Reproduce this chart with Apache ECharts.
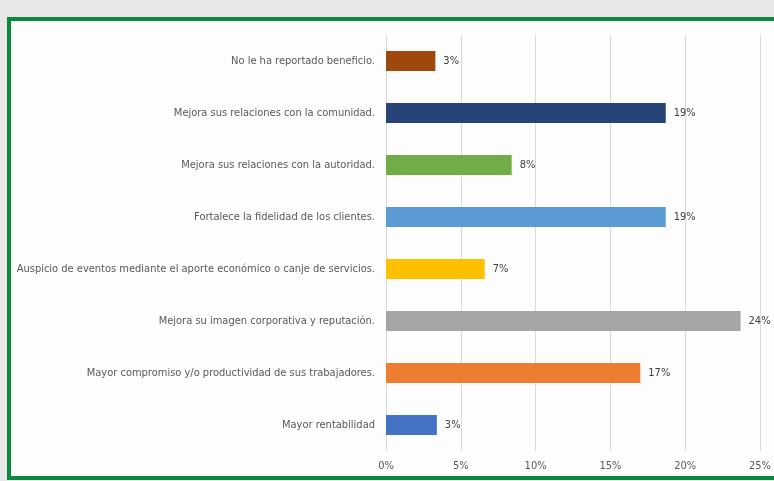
<!DOCTYPE html>
<html>
<head>
<meta charset="utf-8">
<script src="https://cdn.jsdelivr.net/npm/echarts@6/dist/echarts.min.js"></script>
<style>
  html, body { margin: 0; padding: 0; width: 774px; height: 481px; overflow: hidden; background: #e6e7e6; }
  .frame {
    position: absolute; left: 7px; top: 17px; width: 790px; height: 455px;
    background: #fdfdfd; border: 4px solid #0b8a3e;
  }
  #chart { position: absolute; left: 0; top: 0; width: 774px; height: 481px; }
</style>
</head>
<body>
<div class="frame"></div>
<div id="chart"></div>
<script>
const categories = [
  'No le ha reportado beneficio.',
  'Mejora sus relaciones con la comunidad.',
  'Mejora sus relaciones con la autoridad.',
  'Fortalece la fidelidad de los clientes.',
  'Auspicio de eventos mediante el aporte económico o canje de servicios.',
  'Mejora su imagen corporativa y reputación.',
  'Mayor compromiso y/o productividad de sus trabajadores.',
  'Mayor rentabilidad'
]
const values = [3.3, 18.7, 8.4, 18.7, 6.6, 23.7, 17.0, 3.4]
const barColors = ['#9e480e', '#264478', '#70ad47', '#5b9bd5', '#ffc000', '#a5a5a5', '#ed7d31', '#4472c4']
const xTicks = [0, 5, 10, 15, 20, 25]

const chart = echarts.init(document.getElementById('chart'))

chart.setOption({
  backgroundColor: 'transparent',
  textStyle: { fontFamily: 'Liberation Sans Narrow, DejaVu Sans Condensed, sans-serif' },
  grid: {
    left: 386,
    right: 14,
    top: 35,
    bottom: 30,
    containLabel: false,
    outerBoundsMode: 'none'
  },
  xAxis: {
    type: 'value',
    min: xTicks[0],
    max: xTicks[xTicks.length - 1],
    interval: 5,
    axisLine: { show: false },
    axisTick: { show: false },
    splitLine: { lineStyle: { color: '#d9d9d9' } },
    axisLabel: { formatter: '{value}%', color: '#595959', fontSize: 11, margin: 10 }
  },
  yAxis: {
    type: 'category',
    inverse: true,
    data: categories,
    axisLine: { lineStyle: { color: '#d9d9d9' } },
    axisTick: { show: false },
    axisLabel: { color: '#595959', fontSize: 11, margin: 11 }
  },
  series: [
    {
      type: 'bar',
      barWidth: 20,
      data: values.map((v, i) => ({ value: v, itemStyle: { color: barColors[i] } })),
      label: {
        show: true,
        position: 'right',
        distance: 8,
        color: '#404040',
        fontSize: 11,
        formatter: p => Math.round(p.value) + '%'
      }
    }
  ]
})
</script>
</body>
</html>
